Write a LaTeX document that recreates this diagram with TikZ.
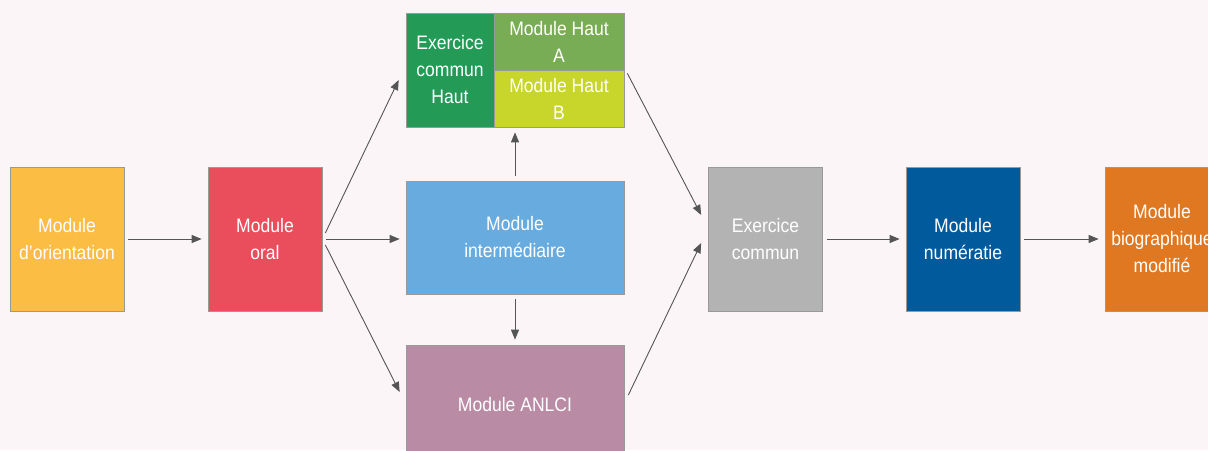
\documentclass[tikz,border=0pt]{standalone}
\usepackage{fontspec}
\setmainfont[FakeStretch=0.9]{Liberation Sans}
\usetikzlibrary{arrows.meta,calc}
\definecolor{bg}{HTML}{FBF5F7}
\definecolor{corient}{HTML}{FBBD44}
\definecolor{coral}{HTML}{EA4E5C}
\definecolor{chautex}{HTML}{249A57}
\definecolor{chauta}{HTML}{79AD55}
\definecolor{chautb}{HTML}{C8D52B}
\definecolor{cinter}{HTML}{68ABDF}
\definecolor{canlci}{HTML}{B98BA5}
\definecolor{cexc}{HTML}{B3B3B3}
\definecolor{cnum}{HTML}{005A9B}
\definecolor{cbio}{HTML}{E07822}
\definecolor{carrow}{HTML}{555555}
\tikzset{
  box/.style={rectangle, draw=black!40, line width=0.7pt, text=white, align=center,
    inner sep=0pt, font=\fontsize{19.5}{27}\selectfont},
  arr/.style={draw=carrow, line width=0.9pt, -{Triangle[length=10pt,width=8pt]}},
}
\begin{document}
\begin{tikzpicture}[x=1pt,y=-1pt]
\useasboundingbox (0,0) rectangle (1208,450);
\fill[bg] (0,0) rectangle (1208,450);
\clip (0,0) rectangle (1208,450);
\node[box, fill=corient, minimum width=114pt, minimum height=144pt] (orient) at (67,239) {Module\\d’orientation};
\node[box, fill=coral, minimum width=114pt, minimum height=144pt] (oral) at (265,239) {Module\\oral};
\node[box, fill=chautex, minimum width=88pt, minimum height=114pt] (hautex) at (450,70) {Exercice\\commun\\Haut};
\node[box, fill=chauta, minimum width=130pt, minimum height=57pt] (hauta) at (559,41.5) {Module Haut\\A};
\node[box, fill=chautb, minimum width=130pt, minimum height=57pt] (hautb) at (559,98.5) {Module Haut\\B};
\node[box, fill=cinter, minimum width=218pt, minimum height=113pt] (inter) at (515,237.5) {Module\\intermédiaire};
\node[box, fill=canlci, minimum width=218pt, minimum height=120pt] (anlci) at (515,405) {Module ANLCI};
\node[box, fill=cexc, minimum width=114pt, minimum height=144pt] (exc) at (765.5,239) {Exercice\\commun};
\node[box, fill=cnum, minimum width=114pt, minimum height=144pt] (num) at (963,239) {Module\\numératie};
\node[box, fill=cbio, minimum width=114pt, minimum height=144pt] (bio) at (1162,239) {Module\\biographique\\modifié};
% connectors
\draw[arr, shorten <=4pt, shorten >=6pt] (orient.east) -- (oral.west);
\draw[arr] ($(oral.east)+(3,-6)$) -- ($(hautex.west)+(-7,10)$);
\draw[arr, shorten <=4pt, shorten >=6pt] (oral.east) -- (inter.west |- oral.east);
\draw[arr] ($(oral.east)+(3,6)$) -- ($(anlci.west)+(-6,-13)$);
\draw[arr] ([yshift=5pt]inter.north) -- ([yshift=-5pt]inter.north |- hautb.south);
\draw[arr] ([yshift=-5pt]inter.south) -- ([yshift=5pt]anlci.north);
\draw[arr] ($(hauta.south east)+(3,3)$) -- ($(exc.west)+(-7,-24)$);
\draw[arr] ($(anlci.east)+(4,-10)$) -- ($(exc.west)+(-7,4)$);
\draw[arr, shorten <=4pt, shorten >=6pt] (exc.east) -- (num.west);
\draw[arr, shorten <=4pt, shorten >=6pt] (num.east) -- (bio.west);
\end{tikzpicture}
\end{document}
